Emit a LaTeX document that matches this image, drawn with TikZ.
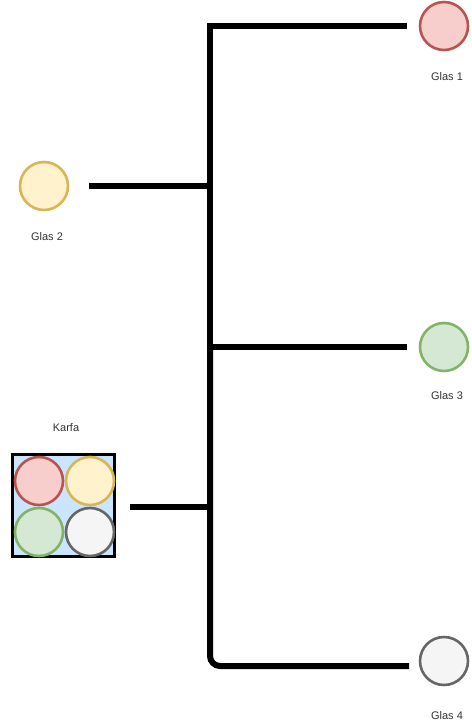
\documentclass[tikz,border=0pt]{standalone}
\usepackage{fontspec}
\setmainfont{Liberation Sans}
\usepackage{xcolor}
\usepackage{tikz}
\usetikzlibrary{positioning}
\definecolor{redFill}{HTML}{F8CECC}
\definecolor{redLine}{HTML}{B85450}
\definecolor{yellowFill}{HTML}{FFF2CC}
\definecolor{yellowLine}{HTML}{D6B656}
\definecolor{greenFill}{HTML}{D5E8D4}
\definecolor{greenLine}{HTML}{82B366}
\definecolor{grayFill}{HTML}{F5F5F5}
\definecolor{grayLine}{HTML}{666666}
\definecolor{karfaFill}{HTML}{CCE5FF}
\definecolor{labelText}{HTML}{333333}

\begin{document}
\begin{tikzpicture}[x=1pt, y=-1pt, font=\fontsize{11}{13}\selectfont,
  glas/.style={circle, line width=2.6pt, minimum size=48pt, inner sep=0pt},
  trunk/.style={line width=6pt, line join=miter},
  lbl/.style={text=labelText}]
  \useasboundingbox (0,0) rectangle (471,727);
  % glasses and their labels
  \foreach \name/\x/\y/\ly/\col/\txt in {
    glas1/444/26/77/red/{Glas 1},
    glas2/44/186/237/yellow/{Glas 2},
    glas3/444/347/396/green/{Glas 3},
    glas4/444/661/716/gray/{Glas 4}}{
    \node[glas, fill=\col Fill, draw=\col Line] (\name) at (\x,\y) {};
    \node[lbl] (\name-lbl) at (\x+3,\ly) {\txt};
  }
  % the jug
  \node[draw, line width=3pt, fill=karfaFill, minimum width=102pt, minimum height=102pt, inner sep=0pt] (karfa) at (63.5,505.5) {};
  \node[lbl] (karfa-lbl) at (66,428) {Karfa};
  \foreach \name/\x/\y/\col in {k1/39/481/red, k2/90/481/yellow, k3/39/532/green, k4/90/532/gray}{
    \node[glas, fill=\col Fill, draw=\col Line] (\name) at (\x,\y) {};
  }
  % junctions on the trunk
  \coordinate (j1) at (210,26);
  \coordinate (j2) at (210,186);
  \coordinate (j3) at (210,347);
  \coordinate (jk) at (210,507);
  \coordinate (j4) at (210,666);
  \coordinate (e1) at ([xshift=-12pt]glas1.west);
  \coordinate (e2) at ([xshift=20pt]glas2.east);
  \coordinate (e3) at ([xshift=-12pt]glas3.west);
  \coordinate (ek) at (130,507);
  \coordinate (e4) at (409,666);
  \draw[trunk] (e1) -- (j1) -- (j3);
  \draw[trunk, rounded corners=10pt] (j3) |- (e4);
  \draw[trunk] (e2) -- (j2);
  \draw[trunk] (j3) -- (e3);
  \draw[trunk] (ek) -- (jk);
\end{tikzpicture}
\end{document}
